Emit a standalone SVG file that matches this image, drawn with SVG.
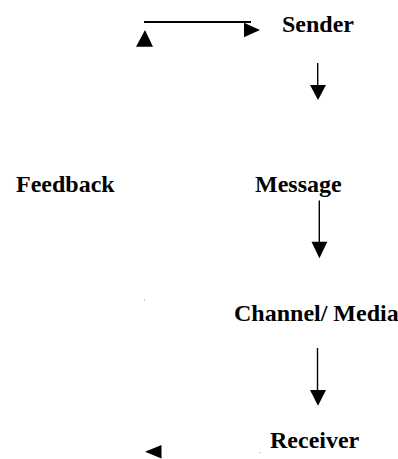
<svg xmlns="http://www.w3.org/2000/svg" width="398" height="459" viewBox="0 0 398 459">
  <style>
    .label { font-family: "Liberation Serif", "Times New Roman", serif; font-weight: bold; font-size: 24px; fill: #000; }
    .wire { stroke: #000; stroke-width: 1.4; fill: none; }
    .head { fill: #000; stroke: none; }
    .speck { fill: #999; }
  </style>
  <rect width="398" height="459" fill="#fff"/>

  <!-- flow lines and arrowheads -->
  <g id="connectors">
    <!-- feedback loop, top segment -->
    <line class="wire" x1="144" y1="22" x2="251" y2="22" style="stroke-width:2"/>
    <polygon class="head" points="244,22.7 260,30 244,37.3"/>
    <polygon class="head" points="136,46.7 145,30 153,46.7"/>
    <!-- Sender to Message -->
    <line class="wire" x1="317.7" y1="63" x2="317.7" y2="87"/>
    <polygon class="head" points="310,85 326,85 318,100"/>
    <!-- Message to Channel -->
    <line class="wire" x1="319.3" y1="200.5" x2="319.3" y2="244"/>
    <polygon class="head" points="311.5,241.7 327.3,241.7 319.4,258.3"/>
    <!-- Channel to Receiver -->
    <line class="wire" x1="317.5" y1="348" x2="317.5" y2="392"/>
    <polygon class="head" points="310,390 326,390 318,405.7"/>
    <!-- feedback loop, bottom arrowhead -->
    <polygon class="head" points="161.5,445 145,451.7 161.5,458.5"/>
  </g>

  <g id="sender"><text class="label" x="282" y="32">Sender</text></g>
  <g id="feedback"><text class="label" x="16" y="192">Feedback</text></g>
  <g id="message"><text class="label" x="255" y="192">Message</text></g>
  <g id="channel"><text class="label" x="234" y="321">Channel/ Media</text></g>
  <g id="receiver"><text class="label" x="270" y="448">Receiver</text></g>

  <!-- stray print specks -->
  <rect class="speck" x="144" y="299.5" width="1" height="1"/>
  <rect class="speck" x="259.5" y="452" width="1" height="1"/>
</svg>
